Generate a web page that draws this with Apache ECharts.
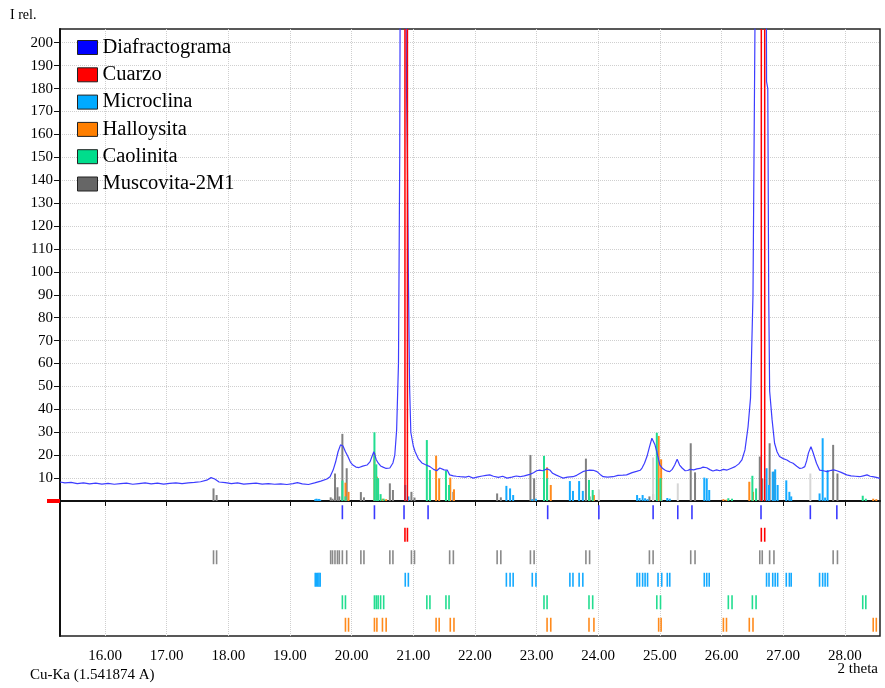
<!DOCTYPE html>
<html>
<head>
<meta charset="utf-8">
<script src="https://cdn.jsdelivr.net/npm/echarts@6/dist/echarts.min.js"></script>
<style>
  html, body { margin: 0; padding: 0; background: #fff; }
  #chart { width: 885px; height: 688px; }
</style>
</head>
<body>
<div id="chart"></div>
<script>
// diafractograma (2 theta, intensidad relativa)
var perfil = [
  [15.27, 8.3], [15.35, 7.9], [15.45, 8.1], [15.55, 7.6], [15.65, 7.9], [15.75, 7.5], [15.85, 7.8],
  [15.95, 7.4], [16.05, 7.7], [16.15, 7.3], [16.25, 7.6], [16.35, 7.8], [16.45, 7.3], [16.55, 7.6],
  [16.65, 7.9], [16.75, 7.5], [16.85, 7.8], [16.95, 7.4], [17.05, 7.7], [17.15, 7.9], [17.25, 7.6],
  [17.35, 7.9], [17.45, 8.1], [17.55, 8.4], [17.65, 9.1], [17.72, 10.2], [17.78, 9.6], [17.85, 8.3],
  [17.95, 8.0], [18.05, 7.6], [18.15, 7.9], [18.25, 7.4], [18.35, 7.6], [18.45, 7.8], [18.55, 7.4],
  [18.65, 7.6], [18.75, 7.3], [18.85, 7.5], [18.95, 7.2], [19.05, 7.6], [19.12, 8.0], [19.2, 7.5],
  [19.3, 7.2], [19.4, 7.9], [19.5, 8.7], [19.6, 9.6], [19.65, 10.6], [19.7, 13.5], [19.74, 17],
  [19.78, 21.5], [19.82, 24.5], [19.86, 24], [19.9, 21.5], [19.94, 19.4], [19.98, 17], [20.02, 15.7],
  [20.07, 14.8], [20.12, 14.6], [20.18, 15.2], [20.25, 15.7], [20.3, 17.2], [20.33, 19.4], [20.36, 21.5],
  [20.4, 18], [20.43, 16.6], [20.47, 15.3], [20.51, 14.8], [20.56, 14.2], [20.62, 14.4], [20.67, 16.6],
  [20.7, 20], [20.73, 31], [20.76, 60], [20.78, 150], [20.795, 300], [20.83, 400], [20.87, 300],
  [20.89, 180], [20.905, 150], [20.92, 100], [20.94, 50], [20.96, 30], [21.0, 24], [21.03, 21.5], [21.08, 18.5],
  [21.14, 16.6], [21.2, 15.8], [21.27, 15], [21.33, 13.8], [21.38, 13.2], [21.43, 14.4], [21.5, 13.6],
  [21.55, 13.5], [21.59, 11.4], [21.65, 11], [21.7, 10.8], [21.76, 10.6], [21.85, 10.4], [21.9, 10.8],
  [21.97, 10], [22.05, 10.5], [22.12, 10.9], [22.18, 11.2], [22.24, 11.4], [22.3, 10.8], [22.38, 10.3],
  [22.45, 10.8], [22.52, 10], [22.6, 10.4], [22.67, 10.9], [22.73, 10.6], [22.8, 11], [22.89, 11.6],
  [22.95, 12.3], [23.0, 13.2], [23.05, 13.5], [23.1, 13.2], [23.17, 14], [23.22, 13.4], [23.26, 12.1],
  [23.32, 11.3], [23.38, 10.6], [23.43, 10], [23.5, 10.4], [23.59, 10.6], [23.65, 11.2], [23.7, 12],
  [23.75, 12.8], [23.8, 13.2], [23.86, 13.5], [23.92, 13.4], [23.98, 12.8], [24.03, 11.6], [24.08, 10.6],
  [24.15, 10.4], [24.24, 10.6], [24.32, 11.2], [24.4, 11.3], [24.46, 11.4], [24.55, 12.4], [24.62, 12.9],
  [24.68, 13.4], [24.71, 14.4], [24.75, 16.5], [24.79, 19.4], [24.83, 23.5], [24.87, 27.4], [24.89, 26.6],
  [24.92, 24.5], [24.95, 21.5], [24.98, 18], [25.0, 15.7], [25.04, 14.3], [25.08, 13.5], [25.12, 13],
  [25.16, 12.8], [25.2, 13.8], [25.24, 15.7], [25.28, 18.2], [25.32, 15.7], [25.36, 14.4], [25.41, 13.2],
  [25.45, 13.3], [25.49, 13.8], [25.55, 13.6], [25.6, 14], [25.65, 14.2], [25.7, 14.8], [25.76, 14.5],
  [25.81, 13.7], [25.86, 13.1], [25.92, 13.6], [25.97, 13.2], [26.03, 13.8], [26.09, 13.5], [26.15, 14.2],
  [26.22, 15], [26.28, 16.2], [26.33, 17.9], [26.38, 22.3], [26.43, 32.4], [26.47, 45], [26.51, 90],
  [26.54, 200], [26.58, 350], [26.63, 420], [26.68, 400], [26.72, 300], [26.73, 183], [26.75, 180],
  [26.765, 90], [26.78, 48], [26.82, 35.4], [26.86, 25.2], [26.9, 21.5], [26.94, 19.4], [27.0, 18.5],
  [27.06, 17.9], [27.11, 17], [27.16, 16.5], [27.22, 15.2], [27.27, 14.2], [27.31, 14.4], [27.35, 15],
  [27.38, 17.5], [27.41, 21], [27.45, 23.7], [27.48, 21.5], [27.51, 19], [27.54, 16.5], [27.59, 13.5],
  [27.65, 13.2], [27.71, 12.8], [27.78, 13.4], [27.82, 13.6], [27.87, 13.2], [27.94, 12.5], [28.03, 11.4],
  [28.1, 11], [28.17, 10.8], [28.24, 10.6], [28.3, 11], [28.36, 11.4], [28.41, 10.8], [28.45, 10.6],
  [28.51, 10.3], [28.57, 9.9]
];

// picos encontrados en el diafractograma
var picosPos = [19.85, 20.37, 20.85, 21.24, 23.18, 24.01, 24.89, 25.29, 25.52, 26.64, 27.44, 27.87];
// picos sin asignar (barras gris claro)
var sinAsignarPos = [24.01, 24.89, 25.29, 27.44];
var sinAsignarInt = [5, 19, 7.7, 12];

var cuarzoPos = [20.865, 20.905, 26.645, 26.70];
var cuarzoInt = [400, 400, 400, 400];

var microclinaPos = [19.41, 19.43, 19.45, 19.47, 19.49, 20.87, 20.92, 22.51, 22.57, 22.62, 22.93, 22.99,
  23.54, 23.59, 23.69, 23.75, 24.63, 24.67, 24.72, 24.76, 24.80, 24.97, 25.03, 25.12, 25.16, 25.72, 25.76,
  25.80, 26.73, 26.77, 26.83, 26.87, 26.91, 27.05, 27.10, 27.13, 27.59, 27.64, 27.68, 27.72];
var microclinaInt = [0.8, 1, 0.7, 0.9, 0.6, 7, 2, 6.6, 5.5, 2.6, 0.8, 1,
  8.7, 4.4, 8.7, 4.4, 2.6, 1.3, 2.6, 1.2, 0.8, 0.6, 0.5, 1.3, 1, 10.2, 9.9,
  4.8, 14.3, 7, 12.8, 13.8, 7, 9, 4, 2, 3.3, 27.4, 1.5, 13.5];

var halloysitaPos = [19.90, 19.95, 20.37, 20.41, 20.50, 20.56, 21.37, 21.42, 21.60, 21.66, 23.17, 23.23,
  23.85, 23.93, 24.98, 25.02, 26.03, 26.08, 26.45, 26.51, 28.46, 28.51];
var halloysitaInt = [8, 4, 21, 10.6, 1, 0.8, 19.8, 9.9, 10.2, 5.1, 14.7, 7,
  5.5, 2.6, 28.4, 18.2, 0.8, 0.6, 8.4, 4, 1, 0.8];

var caolinitaPos = [19.85, 19.90, 20.37, 20.40, 20.43, 20.47, 20.52, 21.22, 21.27, 21.53, 21.58, 23.12,
  23.17, 23.85, 23.91, 24.95, 25.01, 26.11, 26.17, 26.50, 26.56, 28.29, 28.34];
var caolinitaInt = [8.9, 2, 30, 16, 10, 3, 1, 26.6, 13.5, 13.3, 7, 19.7,
  9.9, 9.2, 4.8, 29.8, 10, 1.2, 1, 11, 5.5, 2.3, 1];

var muscovitaPos = [17.76, 17.81, 19.66, 19.69, 19.73, 19.77, 19.80, 19.85, 19.92, 20.15, 20.20, 20.62,
  20.67, 20.97, 21.02, 21.59, 21.65, 22.36, 22.42, 22.90, 22.96, 23.80, 23.86, 24.83, 24.89, 25.50, 25.57,
  26.62, 26.66, 26.78, 26.85, 27.81, 27.88];
var muscovitaInt = [5.5, 2.6, 1.6, 1, 12, 6, 2, 29.3, 14.3, 3.9, 1.6, 7.7,
  4.8, 4, 1.5, 2, 4, 3.3, 1.6, 20.1, 9.9, 18.5, 2, 2, 3, 25.2, 12.5,
  19.4, 9.9, 25.2, 12.8, 24.5, 12];

var xTicks = [16, 17, 18, 19, 20, 21, 22, 23, 24, 25, 26, 27, 28];
var yTicks = [10, 20, 30, 40, 50, 60, 70, 80, 90, 100, 110, 120, 130, 140, 150, 160, 170, 180, 190, 200];

var xMin = 15.27, xMax = 28.57, yMax = 206;
var serif = 'Liberation Serif';

var chart = echarts.init(document.getElementById('chart'));

// barras verticales de cada fase (zona superior)
function barras(name, pos, inten, color, z, ancho) {
  return {
    type: 'custom', name: name, xAxisIndex: 0, yAxisIndex: 0, z: z,
    itemStyle: { color: color },
    silent: true,
    data: pos.map(function (p, i) { return [p, inten[i]] }),
    renderItem: function (params, api) {
      var a = api.coord([api.value(0), 0]);
      var b = api.coord([api.value(0), Math.min(api.value(1), yMax)]);
      return { type: 'line', shape: { x1: a[0], y1: a[1], x2: b[0], y2: b[1] },
        style: { stroke: color, lineWidth: ancho || 2 } };
    }
  };
}

// marcas de posición (zona inferior, una fila por fase)
function marcas(name, pos, fila, color) {
  return {
    type: 'custom', name: name, xAxisIndex: 1, yAxisIndex: 1,
    itemStyle: { color: color },
    silent: true,
    data: pos.map(function (p) { return [p, fila] }),
    renderItem: function (params, api) {
      var a = api.coord([api.value(0), api.value(1) + 0.19]);
      var b = api.coord([api.value(0), api.value(1) + 0.81]);
      return { type: 'line', shape: { x1: a[0], y1: a[1], x2: b[0], y2: b[1] },
        style: { stroke: color, lineWidth: 1.6 } };
    }
  };
}

var colAzul = '#0000ff', colRojo = '#ff0000', colCeleste = '#14aaff',
  colNaranja = '#ff8a1c', colVerde = '#22dd90';

var ejeX = {
  type: 'value', min: xMin, max: xMax,
  axisLine: { lineStyle: { color: '#111', width: 1.5 } },
  axisTick: { show: false, customValues: xTicks },
  axisLabel: { show: false, customValues: xTicks },
  splitLine: { show: true, lineStyle: { color: '#cfcfcf', type: 'dotted', width: 1 } }
};

var option = {
  animation: false,
  backgroundColor: '#fff',
  grid: [
    { left: 60, right: 5, top: 29, height: 472, show: true, borderColor: '#222', borderWidth: 1.5 },
    { left: 60, right: 5, top: 501, height: 135, show: true, borderColor: '#222', borderWidth: 1.5 }
  ],
  legend: {
    left: 72, top: 32, orient: 'vertical', selectedMode: false,
    itemWidth: 20, itemHeight: 14, itemGap: 6.3,
    textStyle: { fontFamily: serif, fontSize: 20.5, color: '#000' },
    itemStyle: { borderColor: '#222', borderWidth: 1 },
    data: [
      { name: 'Diafractograma', icon: 'rect', itemStyle: { color: colAzul } },
      { name: 'Cuarzo', icon: 'rect', itemStyle: { color: colRojo } },
      { name: 'Microclina', icon: 'rect', itemStyle: { color: '#00aaff' } },
      { name: 'Halloysita', icon: 'rect', itemStyle: { color: '#ff7f00' } },
      { name: 'Caolinita', icon: 'rect', itemStyle: { color: '#00dd8c' } },
      { name: 'Muscovita-2M1', icon: 'rect', itemStyle: { color: '#666666' } }
    ]
  },
  xAxis: [
    Object.assign({}, ejeX, { gridIndex: 0 }),
    Object.assign({}, ejeX, {
      gridIndex: 1,
      axisTick: { show: true, customValues: xTicks, length: 5, lineStyle: { color: '#111' } },
      axisLabel: { show: true, customValues: xTicks, margin: 13, fontFamily: serif, fontSize: 15, color: '#000',
        formatter: function (v) { return v.toFixed(2) } }
    })
  ],
  yAxis: [
    {
      gridIndex: 0, type: 'value', min: 0, max: yMax,
      axisLine: { show: true, lineStyle: { color: '#111', width: 2 } },
      axisTick: { show: true, customValues: yTicks, length: 6, lineStyle: { color: '#111' } },
      axisLabel: { customValues: yTicks, margin: 7, fontFamily: serif, fontSize: 15, color: '#000' },
      splitLine: { show: true, lineStyle: { color: '#cfcfcf', type: 'dotted', width: 1 } }
    },
    {
      gridIndex: 1, type: 'value', min: 0, max: 6, inverse: true,
      axisLine: { show: true, lineStyle: { color: '#111', width: 2 } },
      axisTick: { show: false }, axisLabel: { show: false }, splitLine: { show: false }
    }
  ],
  series: [
    barras('Muscovita-2M1', muscovitaPos, muscovitaInt, '#808080', 2),
    barras('sin asignar', sinAsignarPos, sinAsignarInt, '#d6d6d6', 2),
    barras('Microclina', microclinaPos, microclinaInt, colCeleste, 3),
    barras('Halloysita', halloysitaPos, halloysitaInt, colNaranja, 3),
    barras('Caolinita', caolinitaPos, caolinitaInt, colVerde, 3),
    {
      type: 'line', name: 'Diafractograma', xAxisIndex: 0, yAxisIndex: 0, z: 4,
      data: perfil, showSymbol: false, silent: true, clip: true,
      itemStyle: { color: colAzul },
      lineStyle: { color: '#3d3dff', width: 1.2 }
    },
    barras('Cuarzo', cuarzoPos, cuarzoInt, colRojo, 5, 1.5),
    marcas('Diafractograma', picosPos, 0, '#3a3aff'),
    marcas('Cuarzo', cuarzoPos, 1, colRojo),
    marcas('Muscovita-2M1', muscovitaPos, 2, '#8a8a8a'),
    marcas('Microclina', microclinaPos, 3, colCeleste),
    marcas('Caolinita', caolinitaPos, 4, colVerde),
    marcas('Halloysita', halloysitaPos, 5, colNaranja)
  ],
  graphic: [
    { type: 'text', left: 10, top: 8, style: { text: 'I rel.', fontFamily: serif, fontSize: 14, fill: '#000' } },
    { type: 'text', left: 30, top: 668, style: { text: 'Cu-Ka (1.541874 A)', fontFamily: serif, fontSize: 15, fill: '#000' } },
    { type: 'text', right: 7, top: 662, style: { text: '2 theta', fontFamily: serif, fontSize: 15, fill: '#000' } }
  ]
};

chart.setOption(option);

// marca roja del cero en el eje vertical
var cero = chart.convertToPixel({ gridIndex: 0 }, [xMin, 0]);
chart.setOption({
  graphic: option.graphic.concat([{
    type: 'line', z: 10,
    shape: { x1: cero[0] - 13, y1: cero[1], x2: cero[0], y2: cero[1] },
    style: { stroke: '#ff0000', lineWidth: 4 }
  }])
});
</script>
</body>
</html>
